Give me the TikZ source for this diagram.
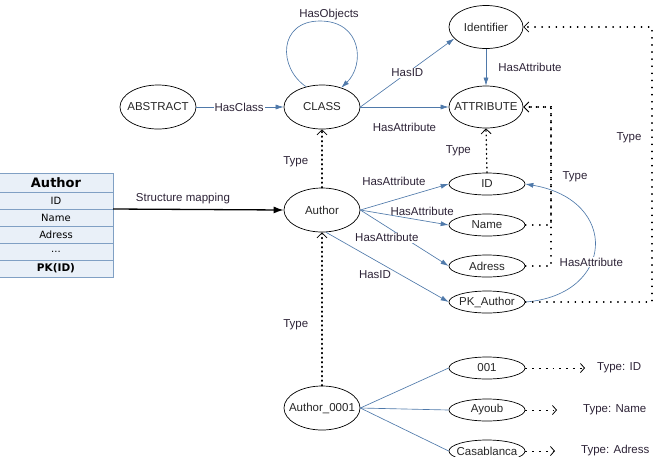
\documentclass[tikz,border=0pt]{standalone}
\usepackage{fontspec}
\setmainfont{Liberation Sans}
\newfontfamily\tblfont{DejaVu Sans}
\usepackage{tikz}
\usetikzlibrary{shapes.geometric, arrows, arrows.meta, positioning}
\definecolor{linkblue}{RGB}{79,121,170}
\definecolor{tblfill}{RGB}{233,240,248}
\definecolor{tbldraw}{RGB}{128,160,196}
\definecolor{lblcol}{RGB}{45,35,55}
\tikzstyle{concept} = [ellipse, draw=black, line width=0.7pt, minimum width=76pt, minimum height=44pt, inner sep=0pt]
\tikzstyle{attr} = [ellipse, draw=black, line width=0.7pt, minimum width=76pt, minimum height=22pt, inner sep=0pt]
\tikzstyle{lbl} = [font=\fontsize{11.5}{13}\selectfont, text=lblcol, inner sep=1pt]
\tikzstyle{tblrow} = [rectangle, draw=tbldraw, fill=tblfill, line width=0.8pt, minimum width=114pt, minimum height=17pt, inner sep=0pt, outer sep=0pt, font=\tblfont\fontsize{10}{12}\selectfont]
\tikzstyle{rel} = [linkblue, line width=0.65pt, -{Latex[length=8pt, width=5pt]}]
\tikzstyle{valuelink} = [linkblue, line width=0.65pt]
\tikzstyle{mapping} = [black, line width=1.3pt, -{Latex[length=10pt, width=7pt]}]
\tikzstyle{typeof} = [black, line width=1.6pt, line cap=round, dash pattern=on 0.8pt off 3.8pt, -{Straight Barb[length=5pt, width=10pt, line width=0.8pt]}]
\tikzstyle{typeroute} = [black, line width=1.1pt, line cap=round, dash pattern=on 0.6pt off 6.5pt, -{Straight Barb[length=5pt, width=10pt, line width=0.8pt]}]
\tikzstyle{typeval} = [black, line width=1pt, dash pattern=on 1.8pt off 5pt, -{Straight Barb[length=4pt, width=9pt, line width=0.8pt]}]

\begin{document}
\begin{tikzpicture}[x=1pt, y=-1pt, every label/.style={font=\fontsize{11.5}{13}\selectfont, text=black!85, inner sep=0pt}]
    \useasboundingbox (0,0) rectangle (661,456);
    % relational table
    \node (tbl-head) [tblrow, minimum height=19pt, font=\tblfont\bfseries\fontsize{13}{15}\selectfont] at (56,182.5) {Author};
    \node (tbl-id) [tblrow, below=0pt of tbl-head] {ID};
    \node (tbl-name) [tblrow, below=0pt of tbl-id] {Name};
    \node (tbl-adress) [tblrow, below=0pt of tbl-name] {Adress};
    \node (tbl-more) [tblrow, below=0pt of tbl-adress] {...};
    \node (tbl-pk) [tblrow, below=0pt of tbl-more, font=\tblfont\bfseries\fontsize{10.5}{12}\selectfont] {PK(ID)};
    % ontology level
    \node (abstract) [concept, label=center:ABSTRACT] at (158,107) {};
    \node (class) [concept, label=center:CLASS] at (322,107) {};
    \node (identifier) [concept, minimum width=74pt, minimum height=43pt, label=center:Identifier] at (486,27) {};
    \node (attribute) [concept, minimum width=74pt, minimum height=42pt, label=center:ATTRIBUTE] at (486,107) {};
    % schema level
    \node (author) [concept, label=center:Author] at (322,210) {};
    \node (id) [attr, label=center:ID] at (487,184) {};
    \node (name) [attr, label=center:Name] at (487,225) {};
    \node (adress) [attr, label=center:Adress] at (487,266) {};
    \node (pk) [attr, label=center:PK\_Author] at (487,302) {};
    % instance level
    \node (author0001) [concept, label=center:Author\_0001] at (322,408) {};
    \node (v001) [attr, label=center:001] at (487,368) {};
    \node (ayoub) [attr, label=center:Ayoub] at (487,410) {};
    \node (casablanca) [attr, label=center:Casablanca] at (487,451) {};
    \node (type001) [lbl, anchor=west] at (596,368) {Type: ID};
    \node (typeayoub) [lbl, anchor=west] at (582,410) {Type: Name};
    \node (typecasa) [lbl, anchor=west] at (580,451) {Type: Adress};
    \node (typeattr) [lbl] at (575,177) {Type};
    \node (typeident) [lbl] at (629,138) {Type};
    \coordinate (attrbus) at (551,150);
    \coordinate (identbus) at (652,150);

    \draw [mapping] (tbl-id.south east) -- node[lbl, pos=0.41, above=3.5pt] {Structure mapping} (author.west);
    \draw [rel] (abstract.east) -- node[lbl, fill=white, pos=0.49] {HasClass} (class.west);
    \draw [rel] (class.128) .. controls (278,68) and (278,21) .. (320,21) node[lbl, above=0pt, xshift=9pt] {HasObjects}
                .. controls (362,21) and (365,65) .. (class.45);
    \draw [rel] (class.east) -- node[lbl, fill=white] {HasID} (identifier.200);
    \draw [rel] (class.east) -- node[lbl, below=15pt] {HasAttribute} (attribute.west);
    \draw [rel] (identifier.south) -- node[lbl, right=11pt] {HasAttribute} (attribute.north);
    \draw [typeof] (author.north) -- node[lbl, pos=0.45, left=12pt] {Type} (class.south);
    \draw [typeof, line width=1.3pt] (id.north) -- node[lbl, left=14pt] {Type} (attribute.south);
    \draw [rel] (author.east) -- node[lbl, pos=0.38, above=13pt] {HasAttribute} (id.west);
    \draw [rel] (author.east) -- node[lbl, pos=0.7, above=4pt] {HasAttribute} (name.west);
    \draw [rel] (author.east) -- node[lbl, fill=white, pos=0.3, below=5.5pt] {HasAttribute} (adress.west);
    \draw [rel] (author.-80) -- node[lbl, pos=0.4, below=9pt] {HasID} (pk.west);
    \draw [rel] (pk.east) .. controls (615,295) and (620,200) .. node[lbl, fill=white, pos=0.4] {HasAttribute} (id.east);
    \draw [typeroute] (name.east) -| (attrbus) |- (attribute.east);
    \draw [typeroute] (adress.east) -| (attrbus) |- (attribute.east);
    \draw [typeroute] (pk.east) -| (identbus) |- (identifier.east);
    \draw [typeof] (author0001.north) -- node[lbl, pos=0.4, left=12pt] {Type} (author.south);
    \draw [valuelink] (author0001.east) -- (v001.west);
    \draw [valuelink] (author0001.east) -- (ayoub.west);
    \draw [valuelink] (author0001.east) -- (casablanca.west);
    \draw [typeval, shorten >=11pt] (v001.east) -- (type001.west);
    \draw [typeval, shorten >=25pt] (ayoub.east) -- (typeayoub.west);
    \draw [typeval, shorten >=25pt] (casablanca.east) -- (typecasa.west);
\end{tikzpicture}
\end{document}
